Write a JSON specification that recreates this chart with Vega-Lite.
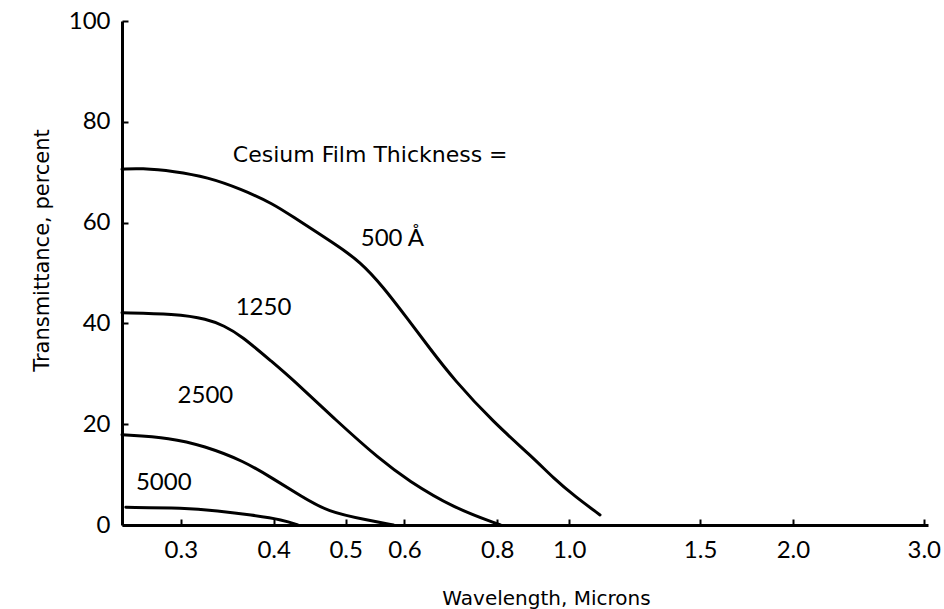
{
  "$schema": "https://vega.github.io/schema/vega-lite/v6.json",
  "width": 806,
  "height": 504,
  "autosize": {"type": "none"},
  "padding": {"left": 122, "top": 21, "right": 16, "bottom": 84},
  "background": "white",
  "config": {"view": {"stroke": null}, "font": "Lato"},
  "datasets": {
    "curves": [
      {"thickness": "500", "wavelength": 0.25, "transmittance": 70.6},
      {"thickness": "500", "wavelength": 0.265, "transmittance": 70.8},
      {"thickness": "500", "wavelength": 0.294, "transmittance": 70.2},
      {"thickness": "500", "wavelength": 0.326, "transmittance": 69.0},
      {"thickness": "500", "wavelength": 0.361, "transmittance": 66.7},
      {"thickness": "500", "wavelength": 0.400, "transmittance": 63.7},
      {"thickness": "500", "wavelength": 0.426, "transmittance": 61.0},
      {"thickness": "500", "wavelength": 0.482, "transmittance": 55.9},
      {"thickness": "500", "wavelength": 0.524, "transmittance": 52.2},
      {"thickness": "500", "wavelength": 0.562, "transmittance": 47.2},
      {"thickness": "500", "wavelength": 0.606, "transmittance": 40.9},
      {"thickness": "500", "wavelength": 0.650, "transmittance": 34.9},
      {"thickness": "500", "wavelength": 0.698, "transmittance": 29.0},
      {"thickness": "500", "wavelength": 0.790, "transmittance": 20.4},
      {"thickness": "500", "wavelength": 0.895, "transmittance": 13.3},
      {"thickness": "500", "wavelength": 0.952, "transmittance": 9.3},
      {"thickness": "500", "wavelength": 1.019, "transmittance": 5.6},
      {"thickness": "500", "wavelength": 1.10, "transmittance": 2.0},
      {"thickness": "1250", "wavelength": 0.25, "transmittance": 42.1},
      {"thickness": "1250", "wavelength": 0.294, "transmittance": 41.9},
      {"thickness": "1250", "wavelength": 0.326, "transmittance": 40.9},
      {"thickness": "1250", "wavelength": 0.343, "transmittance": 39.5},
      {"thickness": "1250", "wavelength": 0.361, "transmittance": 37.7},
      {"thickness": "1250", "wavelength": 0.400, "transmittance": 32.1},
      {"thickness": "1250", "wavelength": 0.422, "transmittance": 29.2},
      {"thickness": "1250", "wavelength": 0.485, "transmittance": 20.8},
      {"thickness": "1250", "wavelength": 0.557, "transmittance": 12.9},
      {"thickness": "1250", "wavelength": 0.606, "transmittance": 8.9},
      {"thickness": "1250", "wavelength": 0.698, "transmittance": 3.4},
      {"thickness": "1250", "wavelength": 0.808, "transmittance": 0.0},
      {"thickness": "2500", "wavelength": 0.25, "transmittance": 17.9},
      {"thickness": "2500", "wavelength": 0.291, "transmittance": 17.3},
      {"thickness": "2500", "wavelength": 0.322, "transmittance": 15.7},
      {"thickness": "2500", "wavelength": 0.365, "transmittance": 12.7},
      {"thickness": "2500", "wavelength": 0.400, "transmittance": 9.1},
      {"thickness": "2500", "wavelength": 0.435, "transmittance": 5.8},
      {"thickness": "2500", "wavelength": 0.473, "transmittance": 2.6},
      {"thickness": "2500", "wavelength": 0.535, "transmittance": 1.0},
      {"thickness": "2500", "wavelength": 0.580, "transmittance": 0.0},
      {"thickness": "5000", "wavelength": 0.253, "transmittance": 3.5},
      {"thickness": "5000", "wavelength": 0.303, "transmittance": 3.4},
      {"thickness": "5000", "wavelength": 0.336, "transmittance": 2.8},
      {"thickness": "5000", "wavelength": 0.373, "transmittance": 2.0},
      {"thickness": "5000", "wavelength": 0.4125, "transmittance": 1.0},
      {"thickness": "5000", "wavelength": 0.431, "transmittance": 0.0}
    ],
    "heading": [
      {"label": "Cesium Film Thickness =", "wavelength": 0.3525, "transmittance": 72.0}
    ],
    "labels": [
      {"label": "500 Å", "wavelength": 0.524, "transmittance": 55.4},
      {"label": "1250", "wavelength": 0.3556, "transmittance": 41.7},
      {"label": "2500", "wavelength": 0.297, "transmittance": 24.2},
      {"label": "5000", "wavelength": 0.261, "transmittance": 6.9}
    ]
  },
  "layer": [
    {
      "data": {"name": "curves"},
      "mark": {"type": "line", "interpolate": "basis", "strokeWidth": 3, "color": "black", "strokeCap": "round"},
      "encoding": {
        "x": {
          "field": "wavelength",
          "type": "quantitative",
          "scale": {"type": "log", "domain": [0.25, 3.04], "nice": false},
          "axis": {
            "title": "Wavelength, Microns",
            "values": [0.3, 0.4, 0.5, 0.6, 0.8, 1.0, 1.5, 2.0, 3.0],
            "format": ".1f",
            "grid": false,
            "domainColor": "black",
            "domainWidth": 3,
            "tickColor": "black",
            "tickWidth": 2,
            "tickSize": -6,
            "labelPadding": 19,
            "labelFont": "Lato",
            "labelFontSize": 24,
            "labelColor": "black",
            "labelFlush": false,
            "labelOverlap": false,
            "titleFont": "DejaVu Sans",
            "titleFontSize": 20,
            "titleFontWeight": "normal",
            "titleColor": "black",
            "titleX": 424,
            "titleY": 79,
            "titleBaseline": "alphabetic",
            "titleAlign": "center"
          }
        },
        "y": {
          "field": "transmittance",
          "type": "quantitative",
          "scale": {"domain": [0, 100], "nice": false},
          "axis": {
            "title": "Transmittance, percent",
            "values": [0, 20, 40, 60, 80, 100],
            "grid": false,
            "domainColor": "black",
            "domainWidth": 3,
            "tickColor": "black",
            "tickWidth": 2,
            "tickSize": -6,
            "labelPadding": 18,
            "labelFont": "Lato",
            "labelFontSize": 24,
            "labelColor": "black",
            "labelFlush": false,
            "labelOverlap": false,
            "titleFont": "DejaVu Sans",
            "titleFontSize": 21,
            "titleFontWeight": "normal",
            "titleColor": "black",
            "titleX": -80,
            "titleY": 229,
            "titleAngle": -90,
            "titleBaseline": "middle",
            "titleAlign": "center"
          }
        },
        "detail": {"field": "thickness"}
      }
    },
    {
      "data": {"name": "heading"},
      "mark": {"type": "text", "align": "left", "baseline": "alphabetic", "font": "DejaVu Sans", "fontSize": 22, "color": "black"},
      "encoding": {
        "x": {"field": "wavelength", "type": "quantitative"},
        "y": {"field": "transmittance", "type": "quantitative"},
        "text": {"field": "label"}
      }
    },
    {
      "data": {"name": "labels"},
      "mark": {"type": "text", "align": "left", "baseline": "alphabetic", "font": "Lato", "fontSize": 24, "color": "black"},
      "encoding": {
        "x": {"field": "wavelength", "type": "quantitative"},
        "y": {"field": "transmittance", "type": "quantitative"},
        "text": {"field": "label"}
      }
    }
  ]
}
